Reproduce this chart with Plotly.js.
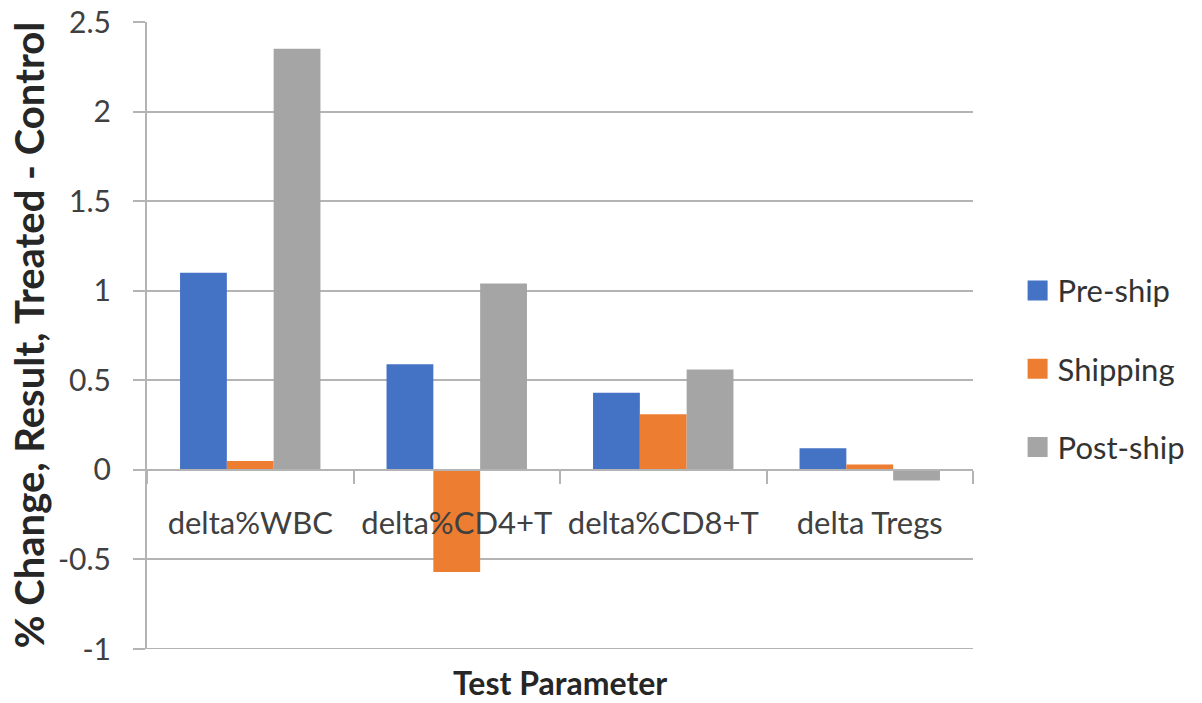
<!DOCTYPE html>
<html>
<head>
<meta charset="utf-8">
<script src="https://cdn.plot.ly/plotly-3.0.1.min.js"></script>
<style>html,body{margin:0;padding:0;background:#fff;}#chart{width:1202px;height:703px;}</style>
</head>
<body>
<div id="chart"></div>
<script>
const categories = ["delta%WBC", "delta%CD4+T", "delta%CD8+T", "delta Tregs"];
const seriesNames = ["Pre-ship", "Shipping", "Post-ship"];
const preShip = [1.10, 0.59, 0.43, 0.12];
const shipping = [0.05, -0.57, 0.31, 0.03];
const postShip = [2.35, 1.04, 0.56, -0.06];
const yTickVals = [-1, -0.5, 0, 0.5, 1, 1.5, 2, 2.5];
const yTickText = ["-1", "-0.5", "0", "0.5", "1", "1.5", "2", "2.5"];
const colors = ["#4472C4", "#ED7D31", "#A5A5A5"];
const yTitle = "% Change, Result, Treated - Control";
const xTitle = "Test Parameter";

const values = [preShip, shipping, postShip];
const traces = values.map((v, i) => ({
  type: "bar",
  name: seriesNames[i],
  x: categories,
  y: v,
  marker: { color: colors[i], line: { width: 0 } },
  legendgroup: "g" + i,
  hoverinfo: "x+y+name"
}));

const FONT = "Lato, 'Open Sans', sans-serif";
const GRID = "#B4B4B4";
const yMin = -1, yMax = 2.5;

const layout = {
  width: 1202, height: 703,
  margin: { l: 147, r: 224, t: 22, b: 54, pad: 0 },
  paper_bgcolor: "#ffffff",
  plot_bgcolor: "#ffffff",
  barmode: "group",
  bargap: 0.32,
  bargroupgap: 0,
  showlegend: true,
  legend: {
    x: 1.054, xanchor: "left", xref: "paper",
    y: 0.447, yanchor: "middle",
    font: { family: FONT, size: 31, color: "#333333" },
    tracegroupgap: 35,
    itemclick: false
  },
  xaxis: {
    type: "category",
    anchor: "free",
    position: (0 - yMin) / (yMax - yMin),
    showline: true, linecolor: GRID, linewidth: 2,
    ticks: "outside", tickson: "boundaries", ticklen: 13, tickcolor: GRID, tickwidth: 2,
    ticklabelstandoff: 26,
    showgrid: false, zeroline: false,
    tickfont: { family: FONT, size: 31, color: "#404040" },
    fixedrange: true
  },
  yaxis: {
    range: [yMin, yMax],
    tickvals: yTickVals, ticktext: yTickText,
    showline: true, linecolor: GRID, linewidth: 2,
    ticks: "outside", ticklen: 12, tickcolor: GRID, tickwidth: 2,
    ticklabelstandoff: 16,
    showgrid: true, gridcolor: GRID, gridwidth: 2,
    zeroline: false,
    tickfont: { family: FONT, size: 30, color: "#404040" },
    fixedrange: true
  },
  shapes: [
    {
      type: "line", xref: "paper", yref: "y",
      x0: 0, x1: 1, y0: yMin, y1: yMin,
      line: { color: GRID, width: 2 }, layer: "below"
    }
  ],
  annotations: [
    {
      text: yTitle, xref: "paper", yref: "paper",
      x: (28 - 147) / 831, y: 0.5, xanchor: "center", yanchor: "middle",
      textangle: -90, showarrow: false,
      font: { family: FONT, size: 40, color: "#262626", weight: "bold" }
    },
    {
      text: xTitle, xref: "paper", yref: "paper",
      x: 0.5, y: -(682 - 649) / 627, xanchor: "center", yanchor: "middle",
      showarrow: false,
      font: { family: FONT, size: 32, color: "#262626", weight: "bold" }
    }
  ]
};

Plotly.newPlot("chart", traces, layout, { staticPlot: true, displayModeBar: false }).then(() => {
  document.querySelectorAll("#chart .legendpoints path").forEach(p => {
    p.setAttribute("d", "M10,10H-10V-10H10Z");
  });
});
</script>
</body>
</html>
